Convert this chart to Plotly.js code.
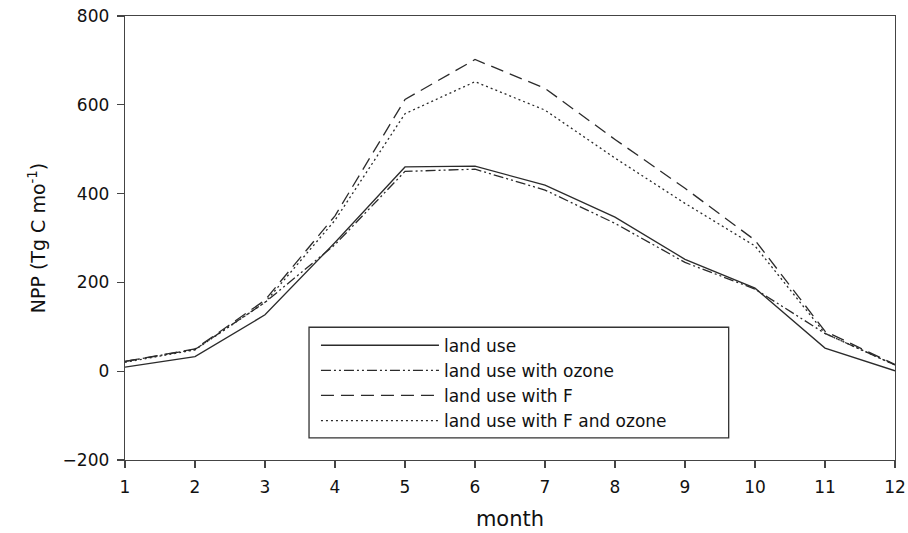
<!DOCTYPE html>
<html>
<head>
<meta charset="utf-8">
<script src="https://cdn.plot.ly/plotly-3.0.1.min.js"></script>
<style>
  html, body { margin: 0; padding: 0; background: #fff; }
  #chart { width: 908px; height: 533px; }
</style>
</head>
<body>
<div id="chart"></div>
<script>
// Monthly net primary production under four scenarios
const months = [1, 2, 3, 4, 5, 6, 7, 8, 9, 10, 11, 12];
const landUse        = [9, 33, 127, 290, 460, 462, 419, 347, 252, 187, 52, 1];
const landUseOzone   = [22, 49, 155, 285, 450, 455, 408, 333, 245, 185, 85, 14];
const landUseF       = [22, 50, 160, 350, 612, 702, 637, 522, 412, 295, 90, 15];
const landUseFOzone  = [20, 48, 155, 340, 580, 652, 588, 480, 378, 282, 85, 14];
const seriesNames = ['land use', 'land use with ozone', 'land use with F', 'land use with F and ozone'];
const yTicks = [-200, 0, 200, 400, 600, 800];

const lineColor = '#2b2b2b';
const dashes = ['solid', '10px,3px,2px,3px,2px,3px', '13px,7px', '2px,3px'];
const values = [landUse, landUseOzone, landUseF, landUseFOzone];

const traces = values.map((v, i) => ({
  x: months,
  y: v,
  name: seriesNames[i],
  type: 'scatter',
  mode: 'lines',
  line: { color: lineColor, width: 1.3, dash: dashes[i] }
}));

const family = 'DejaVu Sans, Verdana, sans-serif';
const axisFont = { family: family, size: 17, color: '#111' };

const layout = {
  width: 908,
  height: 533,
  margin: { l: 125, r: 13, t: 16, b: 73 },
  paper_bgcolor: '#fff',
  plot_bgcolor: '#fff',
  showlegend: true,
  // legend frame drawn as a paper-anchored rectangle so it can be wider than the entries
  shapes: [{
    type: 'rect', xref: 'paper', yref: 'paper', layer: 'below',
    x0: 0.239, x1: 0.784, y0: 0.05, y1: 0.299,
    line: { color: '#333', width: 1.3 },
    fillcolor: '#fff'
  }],
  legend: {
    x: 0.248, y: 0.298, xanchor: 'left', yanchor: 'top',
    bgcolor: 'rgba(0,0,0,0)',
    borderwidth: 0,
    itemwidth: 118,
    tracegroupgap: 0,
    font: { family: family, size: 17, color: '#111' }
  },
  xaxis: {
    range: [1, 12],
    tickvals: months,
    ticks: 'outside', ticklen: 7, tickwidth: 1.2, tickcolor: '#444',
    ticklabelstandoff: 4,
    showline: true, linecolor: '#444', linewidth: 1.3, mirror: true,
    showgrid: false, zeroline: false,
    tickfont: axisFont,
    title: { text: 'month', font: { family: family, size: 21, color: '#111' }, standoff: 15 }
  },
  yaxis: {
    range: [-200, 800],
    tickvals: yTicks,
    ticks: 'outside', ticklen: 7, tickwidth: 1.2, tickcolor: '#444',
    ticklabelstandoff: 4,
    showline: true, linecolor: '#444', linewidth: 1.3, mirror: true,
    showgrid: false, zeroline: false,
    tickfont: axisFont,
    title: { text: 'NPP (Tg C mo<sup>-1</sup>)', font: { family: family, size: 19, color: '#111' }, standoff: 12 }
  }
};

Plotly.newPlot('chart', traces, layout, { displayModeBar: false, staticPlot: true });
</script>
</body>
</html>
